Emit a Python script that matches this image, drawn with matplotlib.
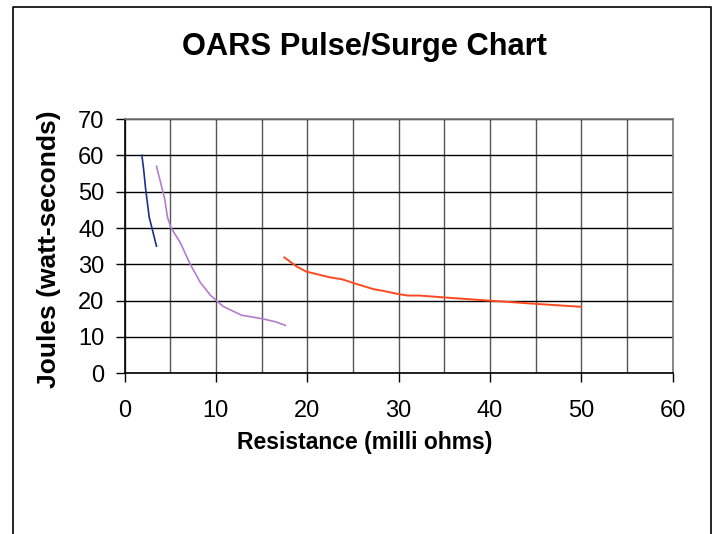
import matplotlib
matplotlib.use("Agg")
import matplotlib.pyplot as plt
from matplotlib.lines import Line2D
from matplotlib.ticker import MultipleLocator

plt.rcParams["font.family"] = ["Liberation Sans", "DejaVu Sans"]

# data (resistance in milli ohms, energy in joules)
blue_x = [1.9, 2.1, 2.3, 2.5, 2.7, 2.9, 3.2, 3.5]
blue_y = [60, 56, 51, 47, 43, 41, 38, 35]

purple_x = [3.5, 3.9, 4.4, 4.7, 5.1, 6.1, 7.2, 8.3, 9.4, 10.2, 10.8, 12.8, 15.1, 16.5, 17.6]
purple_y = [57, 53, 48, 43, 40, 36, 30, 25, 21.5, 19.7, 18.4, 16, 15, 14.2, 13.2]

red_x = [17.5, 18.9, 19.9, 22.5, 23.8, 25.0, 27.2, 28.3, 30.0, 31.0, 32.3, 34.9, 40.0, 45.1, 50.0]
red_y = [31.9, 29.3, 28, 26.4, 25.9, 24.9, 23.2, 22.7, 21.8, 21.4, 21.4, 20.9, 20, 19.1, 18.3]

x_ticks = [0, 10, 20, 30, 40, 50, 60]
y_ticks = [0, 10, 20, 30, 40, 50, 60, 70]

fig = plt.figure(figsize=(7.14, 5.34), dpi=100)
ax = fig.add_axes([0.1744, 0.301, 0.7676, 0.476])

ax.plot(blue_x, blue_y, color="#1f2d8c", lw=1.2)
ax.plot(purple_x, purple_y, color="#b57ccc", lw=1.2)
ax.plot(red_x, red_y, color="#ff4a20", lw=1.4)

ax.set_xlim(0, 60)
ax.set_ylim(0, 70)
ax.set_xticks(x_ticks)
ax.set_yticks(y_ticks)
ax.xaxis.set_minor_locator(MultipleLocator(5))

# grid: vertical every 5, horizontal every 10
ax.grid(True, which="major", axis="y", color="black", lw=1.0)
ax.grid(True, which="both", axis="x", color="#555555", lw=1.0)
ax.set_axisbelow(True)

ax.tick_params(axis="x", which="minor", length=0)
ax.tick_params(axis="both", which="major", direction="out", length=6.5,
               width=1, labelsize=17)
ax.tick_params(axis="y", pad=8)
ax.tick_params(axis="x", pad=13)

for s in ["left", "bottom"]:
    ax.spines[s].set_color("black")
    ax.spines[s].set_linewidth(1.2)
for s in ["top", "right"]:
    ax.spines[s].set_color("#777777")
    ax.spines[s].set_linewidth(1.2)

# titles
fig.text(0.51, 0.912, "OARS Pulse/Surge Chart", ha="center", va="center",
         fontsize=22.2, fontweight="bold")
fig.text(0.511, 0.172, "Resistance (milli ohms)", ha="center", va="center",
         fontsize=16.5, fontweight="bold")
fig.text(0.069, 0.534, "Joules (watt-seconds)", ha="center", va="center",
         rotation=90, fontsize=19, fontweight="bold")

# outer chart border (left, top, right)
bx = [12.5 / 714, 12.5 / 714, 711 / 714, 711 / 714]
by = [0, 1 - 6.5 / 534, 1 - 6.5 / 534, 0]
fig.add_artist(Line2D(bx, by, transform=fig.transFigure, color="black", lw=1.2))

plt.savefig("out.png", dpi=100)
plt.close()
